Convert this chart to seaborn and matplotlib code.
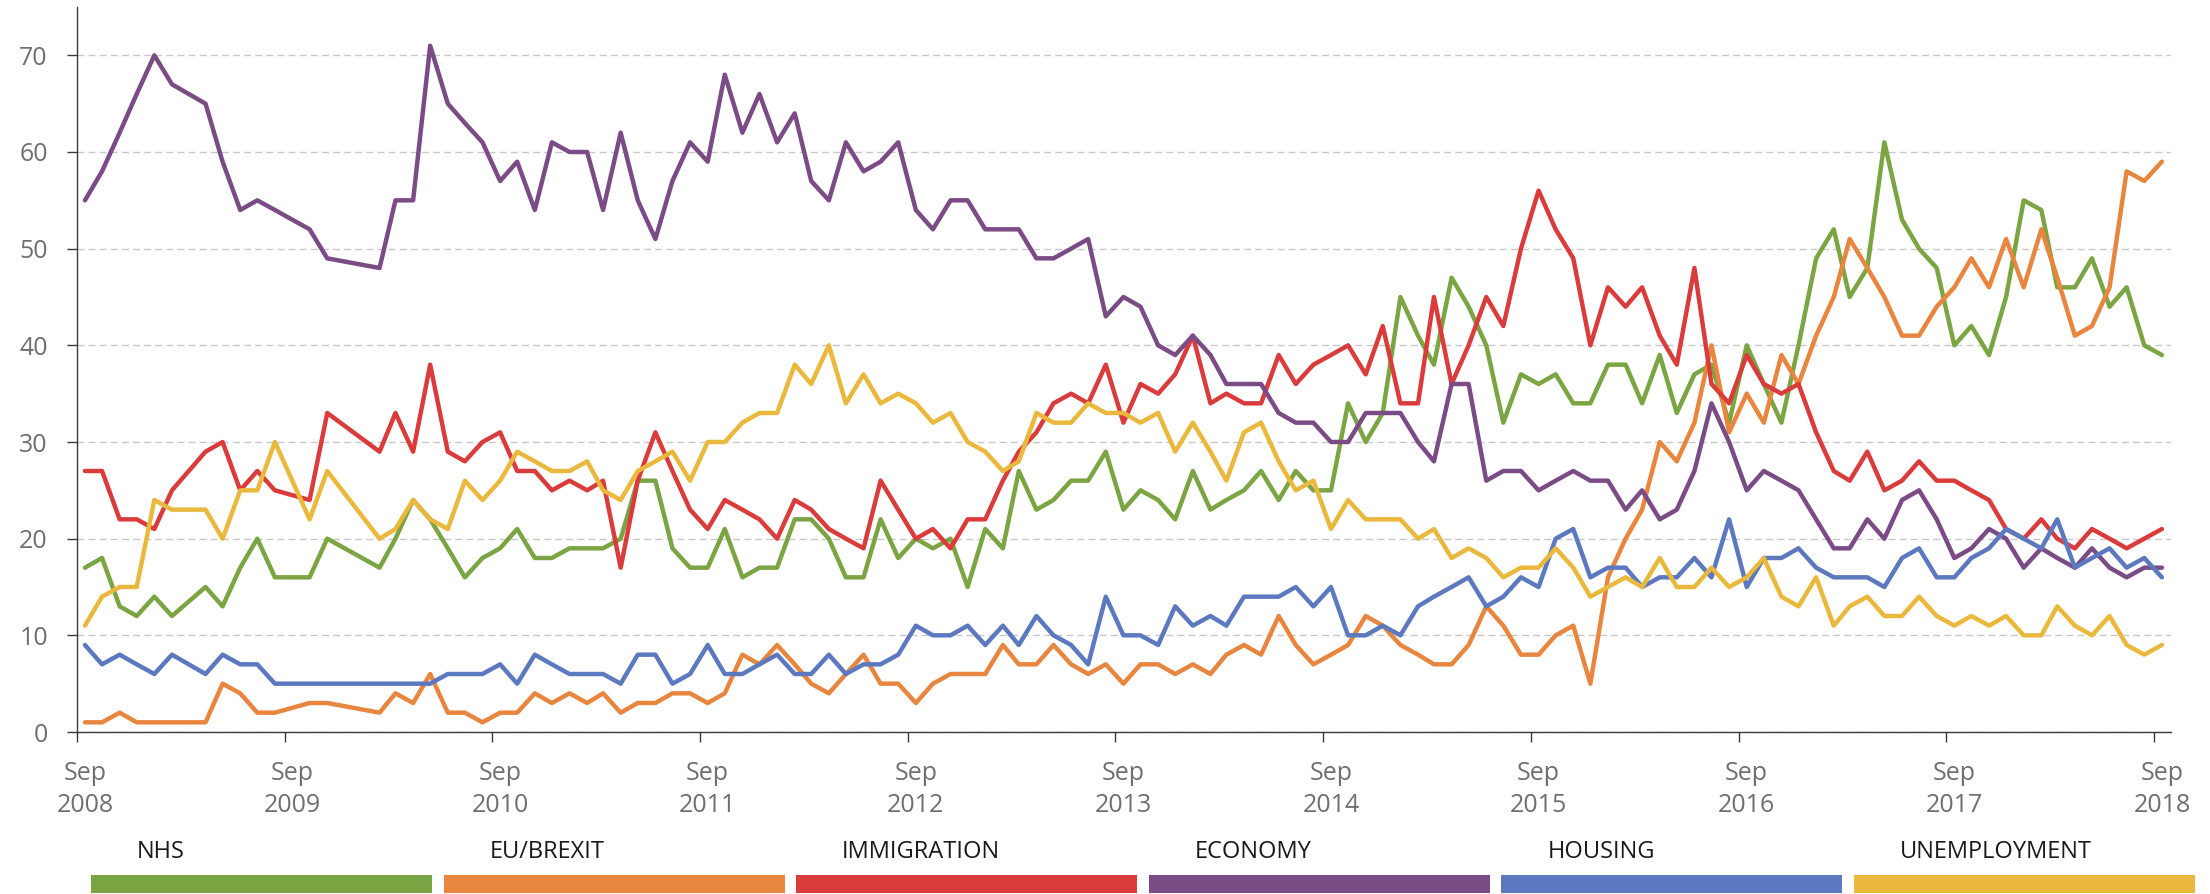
import matplotlib
matplotlib.use('Agg')
import matplotlib.pyplot as plt
import matplotlib.dates as mdates
from matplotlib.patches import Rectangle
from matplotlib.ticker import FuncFormatter, NullFormatter
import pandas as pd
import seaborn as sns

# months since Sep 2008 that have a survey (a few months are missing)
months = [0, 1, 2, 3, 4, 5, 7, 8, 9, 10, 11, 13, 14] + list(range(17, 121))

issues = ['NHS', 'EU/BREXIT', 'IMMIGRATION', 'ECONOMY', 'HOUSING', 'UNEMPLOYMENT']
colors = ['#7BA443', '#E8853E', '#DA3C3C', '#7B4B86', '#5C79C0', '#EAB83D']

nhs = [17, 18, 13, 12, 14, 12, 15, 13, 17, 20, 16, 16, 20,
       17, 20, 24, 22, 19, 16, 18, 19, 21, 18, 18, 19,
       19, 19, 20, 26, 26, 19, 17, 17, 21, 16, 17, 17,
       22, 22, 20, 16, 16, 22, 18, 20, 19, 20, 15, 21,
       19, 27, 23, 24, 26, 26, 29, 23, 25, 24, 22, 27,
       23, 24, 25, 27, 24, 27, 25, 25, 34, 30, 33, 45,
       41, 38, 47, 44, 40, 32, 37, 36, 37, 34, 34, 38,
       38, 34, 39, 33, 37, 38, 32, 40, 36, 32, 40, 49,
       52, 45, 48, 61, 53, 50, 48, 40, 42, 39, 45, 55,
       54, 46, 46, 49, 44, 46, 40, 39]

eu_brexit = [1, 1, 2, 1, 1, 1, 1, 5, 4, 2, 2, 3, 3,
             2, 4, 3, 6, 2, 2, 1, 2, 2, 4, 3, 4,
             3, 4, 2, 3, 3, 4, 4, 3, 4, 8, 7, 9,
             7, 5, 4, 6, 8, 5, 5, 3, 5, 6, 6, 6,
             9, 7, 7, 9, 7, 6, 7, 5, 7, 7, 6, 7,
             6, 8, 9, 8, 12, 9, 7, 8, 9, 12, 11, 9,
             8, 7, 7, 9, 13, 11, 8, 8, 10, 11, 5, 16,
             20, 23, 30, 28, 32, 40, 31, 35, 32, 39, 36, 41,
             45, 51, 48, 45, 41, 41, 44, 46, 49, 46, 51, 46,
             52, 47, 41, 42, 46, 58, 57, 59]

immigration = [27, 27, 22, 22, 21, 25, 29, 30, 25, 27, 25, 24, 33,
               29, 33, 29, 38, 29, 28, 30, 31, 27, 27, 25, 26,
               25, 26, 17, 26, 31, 27, 23, 21, 24, 23, 22, 20,
               24, 23, 21, 20, 19, 26, 23, 20, 21, 19, 22, 22,
               26, 29, 31, 34, 35, 34, 38, 32, 36, 35, 37, 41,
               34, 35, 34, 34, 39, 36, 38, 39, 40, 37, 42, 34,
               34, 45, 36, 40, 45, 42, 50, 56, 52, 49, 40, 46,
               44, 46, 41, 38, 48, 36, 34, 39, 36, 35, 36, 31,
               27, 26, 29, 25, 26, 28, 26, 26, 25, 24, 21, 20,
               22, 20, 19, 21, 20, 19, 20, 21]

economy = [55, 58, 62, 66, 70, 67, 65, 59, 54, 55, 54, 52, 49,
           48, 55, 55, 71, 65, 63, 61, 57, 59, 54, 61, 60,
           60, 54, 62, 55, 51, 57, 61, 59, 68, 62, 66, 61,
           64, 57, 55, 61, 58, 59, 61, 54, 52, 55, 55, 52,
           52, 52, 49, 49, 50, 51, 43, 45, 44, 40, 39, 41,
           39, 36, 36, 36, 33, 32, 32, 30, 30, 33, 33, 33,
           30, 28, 36, 36, 26, 27, 27, 25, 26, 27, 26, 26,
           23, 25, 22, 23, 27, 34, 30, 25, 27, 26, 25, 22,
           19, 19, 22, 20, 24, 25, 22, 18, 19, 21, 20, 17,
           19, 18, 17, 19, 17, 16, 17, 17]

housing = [9, 7, 8, 7, 6, 8, 6, 8, 7, 7, 5, 5, 5,
           5, 5, 5, 5, 6, 6, 6, 7, 5, 8, 7, 6,
           6, 6, 5, 8, 8, 5, 6, 9, 6, 6, 7, 8,
           6, 6, 8, 6, 7, 7, 8, 11, 10, 10, 11, 9,
           11, 9, 12, 10, 9, 7, 14, 10, 10, 9, 13, 11,
           12, 11, 14, 14, 14, 15, 13, 15, 10, 10, 11, 10,
           13, 14, 15, 16, 13, 14, 16, 15, 20, 21, 16, 17,
           17, 15, 16, 16, 18, 16, 22, 15, 18, 18, 19, 17,
           16, 16, 16, 15, 18, 19, 16, 16, 18, 19, 21, 20,
           19, 22, 17, 18, 19, 17, 18, 16]

unemployment = [11, 14, 15, 15, 24, 23, 23, 20, 25, 25, 30, 22, 27,
                20, 21, 24, 22, 21, 26, 24, 26, 29, 28, 27, 27,
                28, 25, 24, 27, 28, 29, 26, 30, 30, 32, 33, 33,
                38, 36, 40, 34, 37, 34, 35, 34, 32, 33, 30, 29,
                27, 28, 33, 32, 32, 34, 33, 33, 32, 33, 29, 32,
                29, 26, 31, 32, 28, 25, 26, 21, 24, 22, 22, 22,
                20, 21, 18, 19, 18, 16, 17, 17, 19, 17, 14, 15,
                16, 15, 18, 15, 15, 17, 15, 16, 18, 14, 13, 16,
                11, 13, 14, 12, 12, 14, 12, 11, 12, 11, 12, 10,
                10, 13, 11, 10, 12, 9, 8, 9]

dates = [pd.Timestamp(2008 + (8 + m) // 12, (8 + m) % 12 + 1, 15) for m in months]
series = [nhs, eu_brexit, immigration, economy, housing, unemployment]

frames = []
for name, vals in zip(issues, series):
    assert len(vals) == len(dates), name
    frames.append(pd.DataFrame({'date': dates, 'value': vals, 'issue': name}))
df = pd.concat(frames, ignore_index=True)

sns.set_style('white')
plt.rcParams['font.family'] = ['Open Sans', 'DejaVu Sans']

W, H = 2210, 894
fig = plt.figure(figsize=(W / 100, H / 100), dpi=100)
ax = fig.add_axes([77 / W, 1 - 732 / H, (2171 - 77) / W, (732 - 7) / H])

sns.lineplot(data=df, x='date', y='value', hue='issue', hue_order=issues,
             palette=dict(zip(issues, colors)), linewidth=3.2, legend=False,
             errorbar=None, estimator=None, ax=ax)

ax.set_xlim(pd.Timestamp('2008-09-01'), pd.Timestamp('2018-10-01'))
ax.set_ylim(0, 75)
ax.set_yticks(range(0, 71, 10))
ax.set_xlabel('')
ax.set_ylabel('')

ax.yaxis.grid(True, color='#c8c8c8', linestyle=(0, (5, 3)), linewidth=1.0)
ax.xaxis.grid(False)
ax.set_axisbelow(True)

for side in ['top', 'right']:
    ax.spines[side].set_visible(False)
for side in ['left', 'bottom']:
    ax.spines[side].set_color('#3a3a3a')
    ax.spines[side].set_linewidth(1.0)

ax.xaxis.set_major_locator(mdates.MonthLocator(bymonth=9, bymonthday=1))
ax.xaxis.set_major_formatter(NullFormatter())
ax.xaxis.set_minor_locator(mdates.MonthLocator(bymonth=9, bymonthday=15))
ax.xaxis.set_minor_formatter(FuncFormatter(
    lambda x, pos: 'Sep\n%d' % mdates.num2date(x).year))

ax.tick_params(axis='x', which='major', direction='out', length=7, width=1.0,
               color='#3a3a3a', bottom=True)
ax.tick_params(axis='x', which='minor', length=0, pad=21, labelsize=18,
               labelcolor='#6f6f6f', bottom=True)
ax.tick_params(axis='y', direction='out', length=7, width=1.0, color='#3a3a3a',
               pad=14, labelsize=18, labelcolor='#6f6f6f', left=True)
for lbl in ax.xaxis.get_minorticklabels():
    lbl.set_linespacing(1.35)

# legend: coloured bars with labels above them
for i, (name, col) in enumerate(zip(issues, colors)):
    x0 = 91 + i * 352.6
    fig.add_artist(Rectangle((x0 / W, 1 - 893 / H), 341 / W, 18 / H,
                             transform=fig.transFigure, color=col, lw=0))
    fig.text((x0 + 46) / W, 1 - 858 / H, name, fontsize=17, color='#1a1a1a',
             va='baseline', ha='left')

fig.savefig('out.png', dpi=100)
